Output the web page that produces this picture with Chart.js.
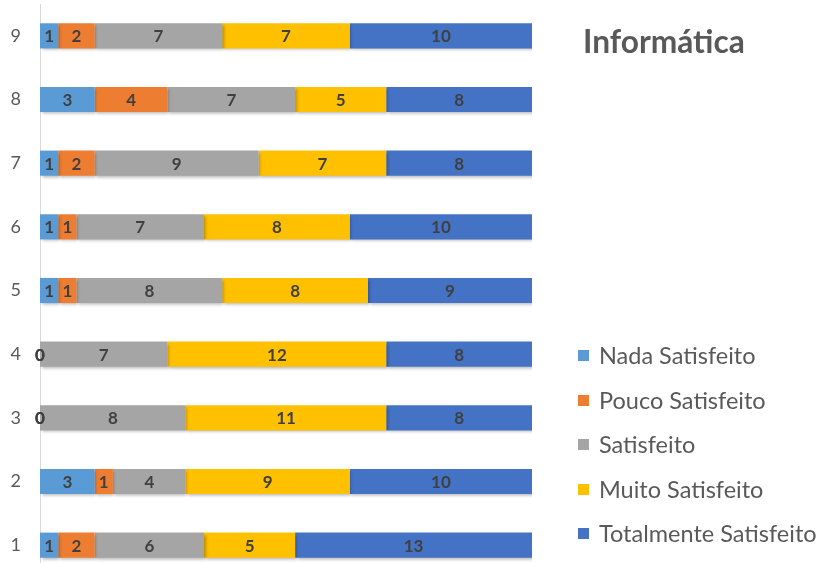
<!DOCTYPE html>
<html><head><meta charset="utf-8">
<script src="https://cdn.jsdelivr.net/npm/chart.js@4"></script>
<style>
html,body{margin:0;padding:0;background:#fff;overflow:hidden;}
#wrap{width:825px;height:563px;overflow:hidden;position:relative;}
</style></head>
<body><div id="wrap"><canvas id="c" width="825" height="578"></canvas></div>
<script>
const categories = ['1','2','3','4','5','6','7','8','9'];
const seriesNames = ['Nada Satisfeito','Pouco Satisfeito','Satisfeito','Muito Satisfeito','Totalmente Satisfeito'];
const nada       = [1, 3, 0, 0, 1, 1, 1, 3, 1];
const pouco      = [2, 1, 0, 0, 1, 1, 2, 4, 2];
const satisfeito = [6, 4, 8, 7, 8, 7, 9, 7, 7];
const muito      = [5, 9, 11, 12, 8, 8, 7, 5, 7];
const totalmente = [13, 10, 8, 8, 9, 10, 8, 8, 10];
const colors = ['#5B9BD5','#ED7D31','#A5A5A5','#FFC000','#4472C4'];
const titleText = 'Informática';
const FONT = 'Lato, "Open Sans", sans-serif';
const seriesValues = [nada, pouco, satisfeito, muito, totalmente];

const shadowPlugin = {
  id:'shadow',
  beforeDatasetDraw(chart){ const c=chart.ctx; c.save(); c.shadowColor='rgba(0,0,0,0.28)'; c.shadowBlur=3; c.shadowOffsetX=1.5; c.shadowOffsetY=2; },
  afterDatasetDraw(chart){ chart.ctx.restore(); }
};
const labelPlugin = {
  id:'labels',
  afterDatasetsDraw(chart){
    const c=chart.ctx; c.save();
    c.font='bold 17px '+FONT; c.fillStyle='#404040'; c.textAlign='center'; c.textBaseline='middle';
    chart.data.datasets.forEach((ds,di)=>{
      const meta=chart.getDatasetMeta(di);
      meta.data.forEach((el,i)=>{
        const x=(el.x+el.base)/2;
        c.fillText(String(ds.data[i]), x, el.y+1);
      });
    });
    c.restore();
  }
};
const sidePlugin = {
  id:'side',
  afterDraw(chart){
    const c=chart.ctx; c.save();
    c.fillStyle='#595959'; c.textBaseline='alphabetic'; c.textAlign='left';
    c.font='bold 100px '+FONT;
    let s=100*162/c.measureText(titleText).width;
    c.font='bold '+s.toFixed(1)+'px '+FONT;
    c.fillText(titleText, 583, 53);
    c.font='100px '+FONT;
    let ls=100*218/c.measureText(seriesNames[4]).width;
    c.font=ls.toFixed(1)+'px '+FONT;
    const ys=[355,400,444,489,533];
    c.textBaseline='middle';
    seriesNames.forEach((n,i)=>{
      c.fillStyle=colors[i];
      c.fillRect(578, ys[i]-5, 11, 11);
      c.fillStyle='#595959';
      c.fillText(n, 599, ys[i]+1);
    });
    c.restore();
  }
};

new Chart(document.getElementById('c'), {
  type:'bar',
  data:{
    labels:categories,
    datasets: seriesNames.map((n,i)=>({label:n,data:seriesValues[i],backgroundColor:colors[i],borderWidth:0,barPercentage:0.395,categoryPercentage:1}))
  },
  options:{
    indexAxis:'y',
    responsive:false,
    animation:false,
    layout:{padding:{top:4,bottom:1,left:0,right:293}},
    plugins:{legend:{display:false},tooltip:{enabled:false},title:{display:false}},
    scales:{
      x:{stacked:true,min:0,max:27,display:false},
      y:{stacked:true,reverse:true,
         grid:{display:false,drawTicks:false},
         border:{display:true,color:'#D9D9D9',width:1},
         ticks:{color:'#595959',font:{family:FONT,size:18},padding:19},
         afterFit(scale){ scale.width=40; scale.paddingTop=0; scale.paddingBottom=0; }
      }
    }
  },
  plugins:[shadowPlugin,labelPlugin,sidePlugin]
});
</script></body></html>
